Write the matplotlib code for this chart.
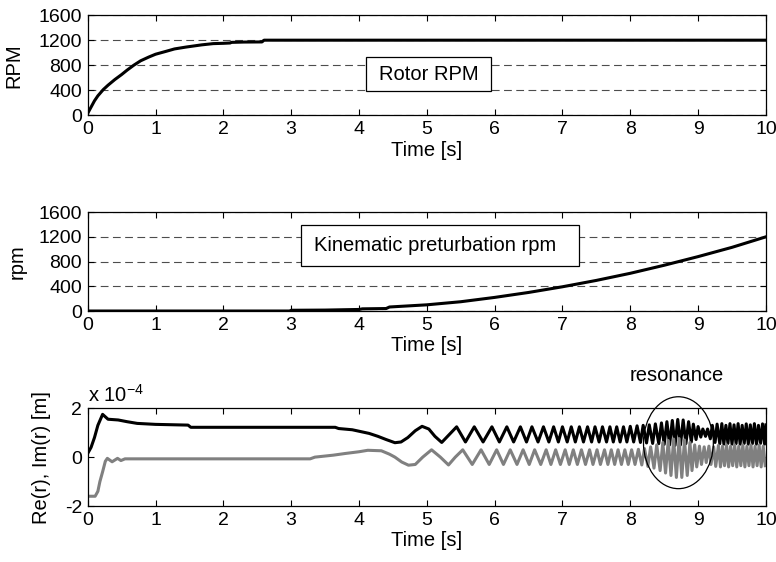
import numpy as np
import matplotlib.pyplot as plt
from matplotlib.patches import Ellipse, Rectangle

plt.rcParams['font.family'] = ['Liberation Sans', 'DejaVu Sans']
plt.rcParams['mathtext.fontset'] = 'custom'
plt.rcParams['mathtext.rm'] = 'Liberation Sans'
plt.rcParams['axes.unicode_minus'] = False
plt.rcParams['font.size'] = 14.5
plt.rcParams['xtick.labelsize'] = 14
plt.rcParams['ytick.labelsize'] = 14

# rotor speed
rotor_t = [0, 0.05, 0.1, 0.15, 0.23, 0.3, 0.4, 0.5, 0.58, 0.68, 0.78, 0.9, 1.0,
           1.15, 1.28, 1.45, 1.68, 1.85, 2.0, 2.1, 2.12, 2.3, 2.57, 2.6, 10]
rotor_rpm = [30, 130, 230, 310, 410, 480, 570, 650, 720, 800, 870, 930, 975,
             1020, 1060, 1090, 1125, 1145, 1150, 1155, 1165, 1170, 1172, 1200, 1200]

# kinematic perturbation speed
kin_t = [0, 2.98, 3.0, 3.5, 4.0, 4.05, 4.4, 4.45, 5, 5.5, 6, 6.5, 7, 7.5, 8,
         8.5, 9, 9.5, 10]
kin_rpm = [0, 0, 12, 15, 25, 35, 40, 65, 100, 150, 220, 300, 392, 495, 610,
           740, 880, 1030, 1200]

# Re(r) in units of 1e-4 m : start-up part, then extremes of the oscillation
re_t = [0, 0.05, 0.1, 0.15, 0.22, 0.26, 0.3, 0.45, 0.58, 0.73, 1.0, 1.48, 1.52,
        3.65, 3.7, 3.9, 4.0, 4.15, 4.28, 4.4, 4.53, 4.62, 4.72, 4.83, 4.93,
        5.03, 5.12, 5.22, 5.33, 5.44, 5.57, 5.70, 5.83, 5.96, 6.07, 6.18, 6.28,
        6.38, 6.47, 6.55, 6.64, 6.72, 6.80, 6.87, 6.94, 7.00, 7.07, 7.13, 7.19,
        7.25, 7.31, 7.37, 7.43, 7.48, 7.54, 7.59, 7.65, 7.70, 7.75, 7.80, 7.85,
        7.90, 7.95, 8.00, 8.05, 8.10, 8.15, 8.19, 8.24, 8.28, 8.33, 8.37, 8.42,
        8.46, 8.50, 8.54, 8.58, 8.62, 8.66, 8.70, 8.74, 8.78, 8.82, 8.86, 8.90,
        8.93, 8.97, 9.00, 9.04, 9.07, 9.11, 9.14, 9.18, 9.21, 9.25, 9.28, 9.32,
        9.35, 9.38, 9.41, 9.44, 9.47, 9.50, 9.53, 9.56, 9.59, 9.62, 9.65, 9.68,
        9.71, 9.74, 9.77, 9.80, 9.83, 9.86, 9.89, 9.92, 9.95, 9.98, 10.0]
re_val = [0.15, 0.4, 0.8, 1.3, 1.75, 1.65, 1.55, 1.52, 1.45, 1.38, 1.34, 1.31, 1.22,
          1.22, 1.17, 1.12, 1.06, 0.97, 0.85, 0.72, 0.59, 0.62, 0.8, 1.08, 1.26,
          1.15, 0.85, 0.60, 0.92, 1.24, 0.62, 1.24, 0.62, 1.24, 0.62, 1.24, 0.62,
          1.24, 0.62, 1.24, 0.62, 1.24, 0.62, 1.24, 0.62, 1.24, 0.62, 1.24, 0.62,
          1.24, 0.62, 1.24, 0.62, 1.24, 0.62, 1.24, 0.62, 1.24, 0.62, 1.24, 0.62,
          1.24, 0.62, 1.26, 0.62, 1.28, 0.60, 1.30, 0.58, 1.32, 0.56, 1.36, 0.55,
          1.40, 0.52, 1.45, 0.50, 1.50, 0.48, 1.54, 0.50, 1.52, 0.55, 1.45, 0.62,
          1.35, 0.72, 1.25, 0.82, 1.15, 0.85, 1.15, 0.75, 1.30, 0.60, 1.35, 0.55,
          1.37, 0.53, 1.30, 0.56, 1.37, 0.53, 1.32, 0.55, 1.37, 0.53, 1.30, 0.56,
          1.36, 0.53, 1.32, 0.55, 1.37, 0.53, 1.30, 0.56, 1.36, 0.53, 1.32]

# Im(r) in units of 1e-4 m
im_t = [0, 0.11, 0.15, 0.18, 0.22, 0.26, 0.29, 0.36, 0.44, 0.49, 0.55, 3.28,
        3.35, 3.62, 3.8, 4.0, 4.13, 4.33, 4.45, 4.53, 4.63, 4.73, 4.83, 4.94,
        5.07, 5.2, 5.32, 5.42, 5.53, 5.67, 5.80, 5.92, 6.03, 6.13, 6.23, 6.33,
        6.42, 6.51, 6.59, 6.68, 6.76, 6.83, 6.90, 6.97, 7.04, 7.10, 7.16, 7.22,
        7.28, 7.34, 7.40, 7.45, 7.51, 7.56, 7.62, 7.67, 7.72, 7.77, 7.82, 7.87,
        7.92, 7.97, 8.02, 8.07, 8.12, 8.17, 8.21, 8.26, 8.30, 8.35, 8.39, 8.44,
        8.48, 8.52, 8.56, 8.60, 8.64, 8.68, 8.72, 8.76, 8.80, 8.84, 8.88, 8.91,
        8.95, 8.98, 9.02, 9.05, 9.09, 9.12, 9.16, 9.19, 9.23, 9.26, 9.30, 9.33,
        9.36, 9.39, 9.42, 9.45, 9.48, 9.51, 9.54, 9.57, 9.60, 9.63, 9.66, 9.69,
        9.72, 9.75, 9.78, 9.81, 9.84, 9.87, 9.90, 9.93, 9.96, 9.99]
im_val = [-1.6, -1.6, -1.4, -1.0, -0.6, -0.17, -0.05, -0.19, -0.05, -0.14, -0.07, -0.07,
          0.0, 0.08, 0.15, 0.22, 0.28, 0.26, 0.12, 0.0, -0.2, -0.33, -0.3, 0.0,
          0.30, 0.0, -0.32, 0.0, 0.30, -0.30, 0.30, -0.30, 0.30, -0.30, 0.30, -0.30,
          0.30, -0.30, 0.30, -0.30, 0.30, -0.30, 0.30, -0.30, 0.30, -0.30, 0.30, -0.30,
          0.30, -0.30, 0.30, -0.30, 0.30, -0.30, 0.30, -0.30, 0.30, -0.30, 0.30, -0.30,
          0.30, -0.30, 0.30, -0.30, 0.32, -0.32, 0.35, -0.38, 0.42, -0.45, 0.50, -0.55,
          0.60, -0.65, 0.68, -0.75, 0.74, -0.83, 0.76, -0.83, 0.70, -0.75, 0.60, -0.55,
          0.50, -0.40, 0.45, -0.30, 0.42, -0.22, 0.45, -0.30, 0.42, -0.38, 0.48, -0.40,
          0.45, -0.35, 0.50, -0.40, 0.45, -0.35, 0.50, -0.40, 0.45, -0.35, 0.50, -0.40,
          0.45, -0.35, 0.50, -0.40, 0.45, -0.35, 0.50, -0.40, 0.45, -0.35]

grid_kw = dict(color='0.3', linestyle=(0, (7, 4)), linewidth=0.8)

fig = plt.figure(figsize=(7.76, 5.62), dpi=100)
ax1 = fig.add_axes([0.113, 0.795, 0.874, 0.178])
ax2 = fig.add_axes([0.113, 0.4466, 0.874, 0.176])
ax3 = fig.add_axes([0.113, 0.0996, 0.874, 0.174])

for ax in (ax1, ax2, ax3):
    ax.set_xlim(0, 10)
    ax.set_xticks(range(11))
    ax.tick_params(direction='in', top=True, right=True, length=4, width=0.8,
                   pad=4)
    ax.set_xlabel('Time [s]', labelpad=2)
    for s in ax.spines.values():
        s.set_linewidth(0.9)

ax1.plot(rotor_t, rotor_rpm, color='black', lw=2.2)
ax1.set_ylim(0, 1600)
ax1.set_yticks([0, 400, 800, 1200, 1600])
ax1.yaxis.grid(True, **grid_kw)
ax1.set_ylabel('RPM')
ax1.yaxis.set_label_coords(-0.095, 0.5)
ax1.add_patch(Rectangle((0.41, 0.24), 0.185, 0.34, transform=ax1.transAxes,
                        fc='white', ec='black', lw=0.9, zorder=3))
ax1.text(0.5025, 0.41, 'Rotor RPM', transform=ax1.transAxes, ha='center',
         va='center', zorder=4)

ax2.plot(kin_t, kin_rpm, color='black', lw=2.2)
ax2.set_ylim(0, 1600)
ax2.set_yticks([0, 400, 800, 1200, 1600])
ax2.yaxis.grid(True, **grid_kw)
ax2.set_ylabel('rpm')
ax2.yaxis.set_label_coords(-0.09, 0.5)
ax2.add_patch(Rectangle((0.315, 0.455), 0.41, 0.414, transform=ax2.transAxes,
                        fc='white', ec='black', lw=0.9, zorder=3))
ax2.text(0.512, 0.662, 'Kinematic preturbation rpm', transform=ax2.transAxes,
         ha='center', va='center', zorder=4)

ax3.plot(re_t, re_val, color='black', lw=2.2)
ax3.plot(im_t, im_val, color='#808080', lw=2.2)
ax3.set_ylim(-2, 2)
ax3.set_yticks([-2, 0, 2])
ax3.set_ylabel('Re(r), Im(r) [m]')
ax3.yaxis.set_label_coords(-0.054, 0.5)
ax3.text(0.0, 1.03, r'x 10$^{-4}$', transform=ax3.transAxes, ha='left', va='bottom')
ax3.add_patch(Ellipse((8.71, 0.59), 1.03, 3.76, fc='none', ec='black', lw=0.9,
                      clip_on=False, zorder=5))
ax3.text(8.69, 1.33, 'resonance', transform=ax3.get_xaxis_transform(),
         ha='center', va='center')

fig.savefig('out.png', dpi=100)
